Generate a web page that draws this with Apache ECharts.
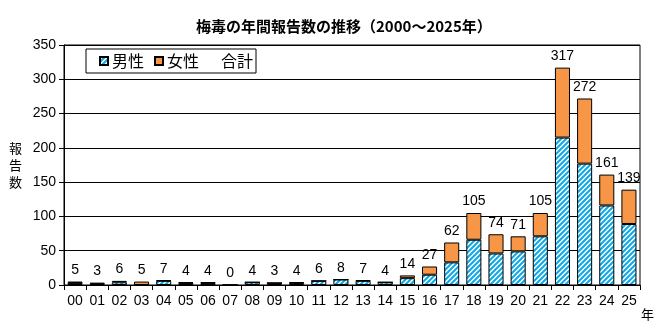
<!DOCTYPE html>
<html>
<head>
<meta charset="utf-8">
<script src="https://cdn.jsdelivr.net/npm/echarts@6/dist/echarts.min.js"></script>
<style>
  html, body { margin: 0; padding: 0; background: #fff; }
  #chart { width: 662px; height: 325px; }
</style>
</head>
<body>
<div id="chart"></div>
<script>
// Annual syphilis reports, 2000-2025 (two-digit year labels)
const years = ['00','01','02','03','04','05','06','07','08','09','10','11','12',
               '13','14','15','16','17','18','19','20','21','22','23','24','25'];
const male   = [3, 2, 4, 0, 6, 3, 3, 0, 4, 3, 3, 6, 8, 6, 4, 10, 15, 33, 66, 46, 49, 71, 215, 177, 116, 89];
const female = [2, 1, 2, 5, 1, 1, 1, 0, 0, 0, 1, 0, 0, 1, 0, 4, 12, 29, 39, 28, 22, 34, 102, 95, 45, 50];
const totals = [5, 3, 6, 5, 7, 4, 4, 0, 4, 3, 4, 6, 8, 7, 4, 14, 27, 62, 105, 74, 71, 105, 317, 272, 161, 139];
const yTicks = { min: 0, max: 350, step: 50 };

const NUM_FONT = '"Liberation Sans", Arial, sans-serif';
const CJK_FONT = '"Noto Sans CJK JP", "Noto Sans", sans-serif';

// Diagonal blue hatching used for the male bars
function stripePattern() {
  const s = 5;
  const c = document.createElement('canvas');
  c.width = s; c.height = s;
  const g = c.getContext('2d');
  g.fillStyle = '#ffffff';
  g.fillRect(0, 0, s, s);
  g.strokeStyle = '#12A8E6';
  g.lineWidth = 2.1;
  g.beginPath();
  for (let k = -1; k <= 1; k++) {
    g.moveTo(k * s - 1, s + 1);
    g.lineTo(k * s + s + 1, -1);
  }
  g.stroke();
  return { image: c, repeat: 'repeat' };
}

const chart = echarts.init(document.getElementById('chart'), null, { renderer: 'canvas' });

chart.setOption({
  backgroundColor: '#ffffff',
  animation: false,
  title: {
    text: '梅毒の年間報告数の推移（2000～2025年）',
    left: 191,
    top: 14,
    textStyle: { fontFamily: CJK_FONT, fontSize: 15, fontWeight: 'bold', color: '#000' }
  },
  legend: {
    left: 86,
    top: 49,
    orient: 'horizontal',
    backgroundColor: '#ffffff',
    borderColor: '#000',
    borderWidth: 1,
    borderRadius: 0,
    padding: [4, 3, 4, 13],
    itemWidth: 8,
    itemHeight: 8,
    itemGap: 10,
    textStyle: { fontFamily: CJK_FONT, fontSize: 16, color: '#000', padding: [0, 0, 0, -1] },
    data: [
      { name: '男性', icon: 'rect' },
      { name: '女性', icon: 'rect' },
      { name: '合計', icon: 'rect', itemStyle: { color: 'rgba(0,0,0,0)', borderWidth: 0 } }
    ]
  },
  grid: {
    left: 64, right: 22, top: 45, bottom: 40,
    show: true, borderColor: '#000', borderWidth: 1
  },
  xAxis: {
    type: 'category',
    data: years,
    name: '年',
    nameLocation: 'end',
    nameGap: 1,
    nameTextStyle: { fontFamily: CJK_FONT, fontSize: 13, color: '#000', verticalAlign: 'top', padding: [23, 0, 0, 0] },
    axisLine: { lineStyle: { color: '#000', width: 1 } },
    axisTick: { show: true, length: 5, lineStyle: { color: '#000' } },
    axisLabel: { interval: 0, margin: 9, fontFamily: NUM_FONT, fontSize: 14, color: '#000' }
  },
  yAxis: {
    type: 'value',
    min: yTicks.min, max: yTicks.max, interval: yTicks.step,
    name: '報\n告\n数',
    nameLocation: 'middle',
    nameRotate: 0,
    nameGap: 42,
    nameTextStyle: { fontFamily: CJK_FONT, fontSize: 13, lineHeight: 17, color: '#000', padding: [0, 0, 18, 0] },
    axisLine: { show: true, lineStyle: { color: '#000', width: 1 } },
    axisTick: { show: true, length: 5, lineStyle: { color: '#000' } },
    splitLine: { show: true, lineStyle: { color: '#000', width: 1 } },
    axisLabel: { margin: 8, fontFamily: NUM_FONT, fontSize: 14, color: '#000' }
  },
  series: [
    {
      name: '男性',
      type: 'bar',
      stack: 'total',
      barWidth: '68%',
      data: male,
      itemStyle: { color: stripePattern(), borderColor: '#000', borderWidth: 1 }
    },
    {
      name: '女性',
      type: 'bar',
      stack: 'total',
      data: female,
      itemStyle: { color: '#F79646', borderColor: '#000', borderWidth: 1 }
    },
    {
      // totals: invisible points carrying the value labels
      name: '合計',
      type: 'line',
      data: totals,
      symbol: 'circle',
      symbolSize: 1,
      showSymbol: true,
      lineStyle: { width: 0, color: 'rgba(0,0,0,0)' },
      itemStyle: { color: 'rgba(0,0,0,0)', borderWidth: 0 },
      emphasis: { disabled: true },
      label: {
        show: true,
        position: 'top',
        distance: 4,
        fontFamily: NUM_FONT,
        fontSize: 14,
        color: '#000'
      },
      z: 5
    }
  ]
});
</script>
</body>
</html>
